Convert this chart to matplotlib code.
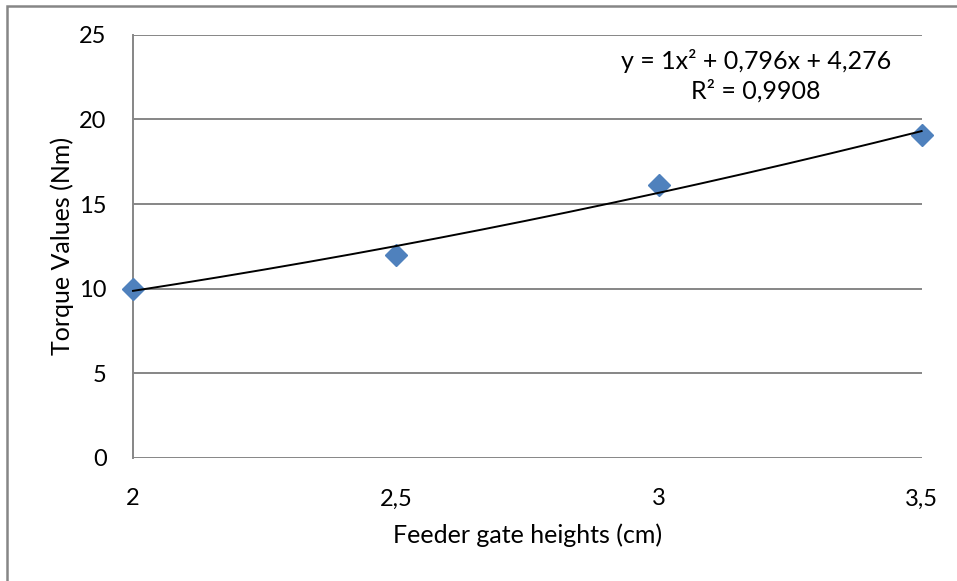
import numpy as np
import matplotlib.pyplot as plt
from matplotlib.patches import Rectangle
from matplotlib.ticker import FuncFormatter

gate_heights = [2.0, 2.5, 3.0, 3.5]
torque_values = [10.0, 12.0, 16.1, 19.1]
fit_coeffs = [1.0, 0.796, 4.276]  # a, b, c from the trendline label
r_squared = 0.9908

plt.rcParams['font.family'] = ['Lato', 'DejaVu Sans']


def comma(v, pos):
    s = f"{v:g}"
    return s.replace('.', ',')


fig = plt.figure(figsize=(9.57, 5.81), dpi=100)
ax = fig.add_axes([0.139, 0.212, 0.824, 0.728])

xs = np.linspace(gate_heights[0], gate_heights[-1], 200)
ys = np.polyval(fit_coeffs, xs)
ax.plot(xs, ys, color='black', linewidth=1.4, zorder=4, clip_on=False)
ax.plot(gate_heights, torque_values, linestyle='none', marker='D',
        markersize=11, color='#4F81BD', zorder=3, clip_on=False)

ax.set_xlim(2, 3.5)
ax.set_ylim(0, 25)
ax.set_xticks(gate_heights)
ax.set_yticks(range(0, 26, 5))
ax.xaxis.set_major_formatter(FuncFormatter(comma))
ax.yaxis.set_major_formatter(FuncFormatter(comma))
ax.tick_params(axis='both', length=0, labelsize=17)
ax.tick_params(axis='x', pad=22)
ax.tick_params(axis='y', pad=19)

ax.grid(axis='y', color='#868686', linewidth=1.4)
ax.set_axisbelow(True)
for side in ['top', 'right', 'bottom']:
    ax.spines[side].set_visible(False)
ax.spines['left'].set_color('#868686')
ax.spines['left'].set_linewidth(1.4)

ax.set_xlabel('Feeder gate heights (cm)', fontsize=18, labelpad=10)
ax.set_ylabel('Torque Values (Nm)', fontsize=18, labelpad=4)

a, b, c = fit_coeffs
eq = f"y = {a:g}x² + {b:g}x + {c:g}".replace('.', ',')
ax.text(0.79, 0.903, eq + "\n" + f"R² = {r_squared:g}".replace('.', ','),
        transform=ax.transAxes, ha='center', va='center', fontsize=18,
        linespacing=1.35)

fig.patches.append(Rectangle((0.007, -0.05), 1.1, 1.04, transform=fig.transFigure,
                             fill=False, edgecolor='#868686', linewidth=1.8))

fig.savefig('out.png', dpi=100)
